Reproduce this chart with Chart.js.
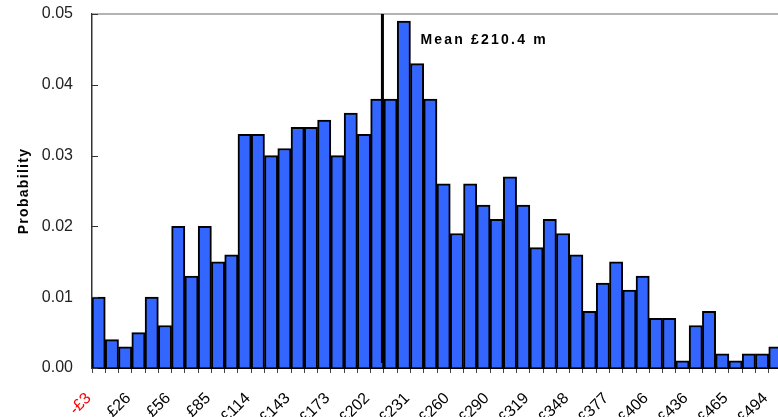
<!DOCTYPE html>
<html lang="en">
<head>
  <meta charset="UTF-8" />
  <title>Probability distribution</title>
  <script src="https://cdn.jsdelivr.net/npm/chart.js@4.4.1/dist/chart.umd.min.js"></script>
  <style>
    html, body {
      margin: 0;
      padding: 0;
      background: #ffffff;
      overflow: hidden;
    }
    #wrap {
      width: 782px;
      height: 417px;
    }
  </style>
</head>
<body>
  <div id="wrap">
    <canvas id="hist" width="782" height="417"></canvas>
  </div>

  <script>
    // bins of £9.75m starting at -£3m, one label every third bin
    const binStart = -3;
    const binWidth = 9.75;
    const meanValue = 210.4;
    const meanText = "Mean £210.4 m";

    const tickLabels = ["-£3", "£26", "£56", "£85", "£114", "£143", "£173", "£202", "£231",
                        "£260", "£290", "£319", "£348", "£377", "£406", "£436", "£465", "£494"];

    const probabilities = [
      0.010, 0.004, 0.003, 0.005, 0.010, 0.006, 0.020, 0.013, 0.020, 0.015,
      0.016, 0.033, 0.033, 0.030, 0.031, 0.034, 0.034, 0.035, 0.030, 0.036,
      0.033, 0.038, 0.038, 0.049, 0.043, 0.038, 0.026, 0.019, 0.026, 0.023,
      0.021, 0.027, 0.023, 0.017, 0.021, 0.019, 0.016, 0.008, 0.012, 0.015,
      0.011, 0.013, 0.007, 0.007, 0.001, 0.006, 0.008, 0.002, 0.001, 0.002,
      0.002, 0.003
    ];

    const fontFamily = "'Liberation Sans', Arial, sans-serif";

    // extras: inner y ticks, top border, mean line + label, y title
    const decorations = {
      id: "decorations",
      afterDatasetsDraw(chart) {
        const { ctx, chartArea, scales } = chart;
        const x = scales.x, y = scales.y;
        ctx.save();

        // top border
        ctx.strokeStyle = "#9a9a9a";
        ctx.lineWidth = 1.5;
        ctx.beginPath();
        ctx.moveTo(chartArea.left, chartArea.top);
        ctx.lineTo(chartArea.right, chartArea.top);
        ctx.stroke();

        // y ticks pointing inward
        ctx.strokeStyle = "#333";
        ctx.lineWidth = 1;
        y.ticks.forEach(t => {
          const py = Math.round(y.getPixelForValue(t.value)) + 0.5;
          ctx.beginPath();
          ctx.moveTo(chartArea.left, py);
          ctx.lineTo(chartArea.left + 6, py);
          ctx.stroke();
        });

        // mean line
        const step = x.getPixelForValue(1) - x.getPixelForValue(0);
        const edge0 = x.getPixelForValue(0) - step / 2;
        const mx = edge0 + (meanValue - binStart) / binWidth * step;
        ctx.strokeStyle = "#000";
        ctx.lineWidth = 3;
        ctx.beginPath();
        ctx.moveTo(mx, chartArea.top);
        ctx.lineTo(mx, chartArea.bottom - 5);
        ctx.stroke();

        // mean label
        ctx.fillStyle = "#000";
        ctx.font = "bold 14px " + fontFamily;
        ctx.letterSpacing = "2.2px";
        ctx.textAlign = "left";
        ctx.textBaseline = "alphabetic";
        ctx.fillText(meanText, mx + 38, y.getPixelForValue(0.0458));

        // y axis title
        ctx.font = "bold 14px " + fontFamily;
        ctx.letterSpacing = "1.3px";
        ctx.translate(28, (chartArea.top + chartArea.bottom) / 2);
        ctx.rotate(-Math.PI / 2);
        ctx.textAlign = "center";
        ctx.fillText("Probability", 0, 0);

        ctx.restore();
      }
    };

    new Chart(document.getElementById("hist"), {
      type: "bar",
      data: {
        labels: probabilities.map((_, i) => i),
        datasets: [{
          label: "Probability",
          data: probabilities,
          backgroundColor: "#3366ff",
          borderColor: "#000000",
          borderWidth: 2,
          barPercentage: 1,
          categoryPercentage: 1
        }]
      },
      options: {
        responsive: false,
        animation: false,
        layout: { padding: { top: 14, right: 0, bottom: 0, left: 0 } },
        plugins: {
          legend: { display: false },
          tooltip: { enabled: false }
        },
        scales: {
          x: {
            afterFit: s => {
              s.height = 49;
              s.paddingLeft = 0;
              s.paddingRight = 0;
            },
            grid: {
              drawOnChartArea: false,
              drawTicks: true,
              tickLength: 5,
              color: "#444",
              offset: true
            },
            border: { display: true, color: "#000", width: 2 },
            ticks: {
              autoSkip: false,
              minRotation: 45,
              maxRotation: 45,
              labelOffset: -10,
              padding: 16,
              font: { family: fontFamily, size: 16 },
              color: ctx => ctx.index === 0 ? "#ff0000" : "#000000",
              callback: (v, i) => i % 3 === 0 ? tickLabels[i / 3] : ""
            }
          },
          y: {
            min: 0,
            max: 0.05,
            afterFit: s => {
              s.width = 92;
              s.paddingTop = 0;
              s.paddingBottom = 0;
            },
            grid: { drawOnChartArea: false, drawTicks: false },
            border: { display: true, color: "#333", width: 1.5 },
            ticks: {
              stepSize: 0.01,
              padding: 19,
              color: "#222",
              font: { family: fontFamily, size: 16 },
              callback: v => v.toFixed(2)
            }
          }
        }
      },
      plugins: [decorations]
    });
  </script>
</body>
</html>
